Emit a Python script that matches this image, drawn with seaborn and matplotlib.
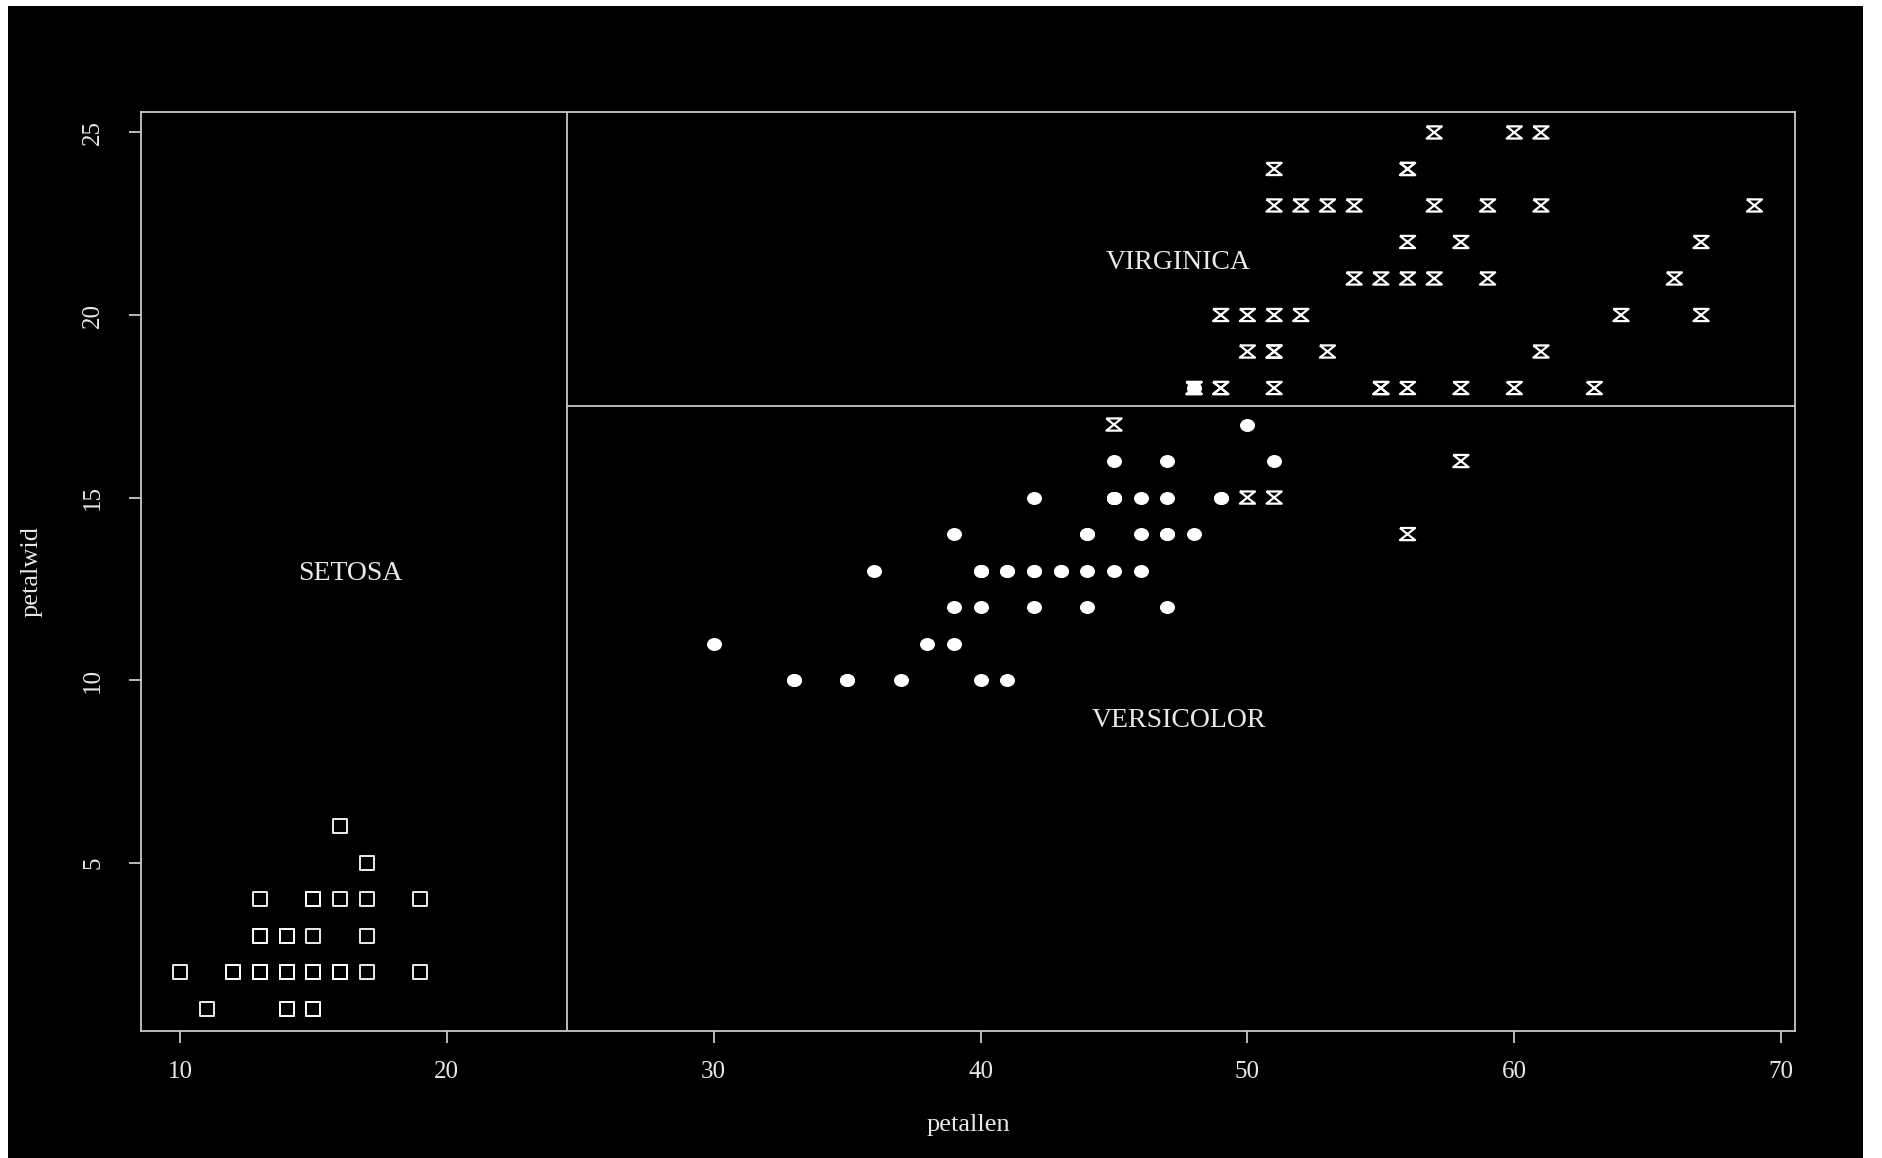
import matplotlib
matplotlib.use("Agg")
import matplotlib.pyplot as plt
from matplotlib.path import Path
from matplotlib.transforms import Affine2D
from matplotlib.patches import Rectangle
import seaborn as sns

# Fisher iris petal measurements (mm)
setosa_len = [14, 14, 13, 15, 14, 17, 14, 15, 14, 15, 15, 16, 14, 11, 12, 15, 13, 14, 17, 15,
              17, 15, 10, 17, 19, 16, 16, 15, 14, 16, 16, 15, 15, 14, 15, 12, 13, 14, 13, 15,
              13, 13, 13, 16, 19, 14, 16, 14, 15, 14]
setosa_wid = [2, 2, 2, 2, 2, 4, 3, 2, 2, 1, 2, 2, 1, 1, 2, 4, 4, 3, 3, 3,
              2, 4, 2, 5, 2, 2, 4, 2, 2, 2, 2, 4, 1, 2, 2, 2, 2, 1, 2, 2,
              3, 3, 2, 6, 4, 3, 2, 2, 2, 2]

versicolor_len = [47, 45, 49, 40, 46, 45, 47, 33, 46, 39, 35, 42, 40, 47, 36, 44, 45, 41, 45, 39,
                  48, 40, 49, 47, 43, 44, 48, 50, 45, 35, 38, 37, 39, 51, 45, 45, 47, 44, 41, 40,
                  44, 46, 40, 33, 42, 42, 42, 43, 30, 41]
versicolor_wid = [14, 15, 15, 13, 15, 13, 16, 10, 13, 14, 10, 15, 10, 14, 13, 14, 15, 10, 15, 11,
                  18, 13, 15, 12, 13, 14, 14, 17, 15, 10, 11, 10, 12, 16, 15, 16, 15, 13, 13, 13,
                  12, 14, 12, 10, 13, 12, 13, 13, 11, 13]

virginica_len = [60, 51, 59, 56, 58, 66, 45, 63, 58, 61, 51, 53, 55, 50, 51, 53, 55, 67, 69, 50,
                 57, 49, 67, 49, 57, 60, 48, 49, 56, 58, 61, 64, 56, 51, 56, 61, 56, 55, 48, 54,
                 56, 51, 51, 59, 57, 52, 50, 52, 54, 51]
virginica_wid = [25, 19, 21, 18, 22, 21, 17, 18, 18, 25, 20, 19, 21, 20, 24, 23, 18, 22, 23, 15,
                 23, 20, 20, 18, 21, 18, 18, 18, 21, 16, 19, 20, 22, 15, 14, 23, 24, 18, 18, 21,
                 24, 23, 19, 23, 25, 23, 19, 20, 23, 18]

x_ticks = [10, 20, 30, 40, 50, 60, 70]
y_ticks = [5, 10, 15, 20, 25]
species_labels = ["SETOSA", "VERSICOLOR", "VIRGINICA"]
label_pos = [(16.4, 12.93), (47.45, 8.9), (47.4, 21.45)]
split_len = 24.5
split_wid = 17.5

sns.set_style("ticks")
plt.rcParams["font.family"] = ["Liberation Serif", "DejaVu Serif"]

LINE = "#c8c8c8"
TEXT = "#e8e8e8"

W, H = 1883, 1158
fig = plt.figure(figsize=(W / 100, H / 100), dpi=100, facecolor="white")
fig.patches.append(Rectangle((8 / W, 0), (1863 - 8) / W, 1 - 6 / H,
                             transform=fig.transFigure, facecolor="black",
                             edgecolor="none", zorder=-1))

left, right, top, bottom = 141.3, 1795, 112, 1031
ax = fig.add_axes([left / W, 1 - bottom / H, (right - left) / W, (bottom - top) / H])
ax.set_facecolor("black")

xlim = (8.55, 70.52)
ylim = (0.39, 25.56)

# marker shapes
ellipse = Path.unit_circle().transformed(Affine2D().scale(1.0, 0.85))
hourglass = Path([(-1, 0.8), (1, 0.8), (-1, -0.8), (1, -0.8), (-1, 0.8)],
                 [Path.MOVETO, Path.LINETO, Path.LINETO, Path.LINETO, Path.LINETO])

sns.scatterplot(x=setosa_len, y=setosa_wid, marker="s", s=100, color="white",
                facecolor="none", edgecolor="white", linewidth=1.3, ax=ax, zorder=3)
sns.scatterplot(x=versicolor_len, y=versicolor_wid, marker=ellipse, s=100, color="white",
                facecolor="white", edgecolor="white", linewidth=0.8, ax=ax, zorder=3)
sns.scatterplot(x=virginica_len, y=virginica_wid, marker=hourglass, s=120, color="white",
                facecolor="none", edgecolor="white", linewidth=1.6, ax=ax, zorder=3)

# decision boundaries
ax.axvline(split_len, color=LINE, lw=1.3, zorder=2)
ax.axhline(split_wid, xmin=(split_len - xlim[0]) / (xlim[1] - xlim[0]), xmax=1,
           color=LINE, lw=1.3, zorder=2)

for txt, (tx, ty) in zip(species_labels, label_pos):
    ax.text(tx, ty, txt, color=TEXT, fontsize=20, ha="center", va="center")

ax.set_xlim(*xlim)
ax.set_ylim(*ylim)
ax.set_xticks(x_ticks)
ax.set_yticks(y_ticks)
ax.set_xticklabels([str(v) for v in x_ticks])
ax.set_yticklabels([str(v) for v in y_ticks], rotation=90, va="center")

for sp in ax.spines.values():
    sp.set_visible(True)
    sp.set_color(LINE)
    sp.set_linewidth(1.3)

ax.tick_params(direction="out", length=8.6, width=1.3, color=LINE,
               labelcolor=TEXT, labelsize=18)
ax.tick_params(axis="x", pad=13)
ax.tick_params(axis="y", pad=18)

ax.set_xlabel("petallen", fontsize=19, color=TEXT, va="center")
ax.set_ylabel("petalwid", fontsize=19, color=TEXT, va="center")
ax.xaxis.set_label_coords(0.5, (bottom - 1125) / (bottom - top))
ax.yaxis.set_label_coords((32 - left) / (right - left), 0.5)

fig.savefig("out.png", dpi=100, facecolor=fig.get_facecolor())
